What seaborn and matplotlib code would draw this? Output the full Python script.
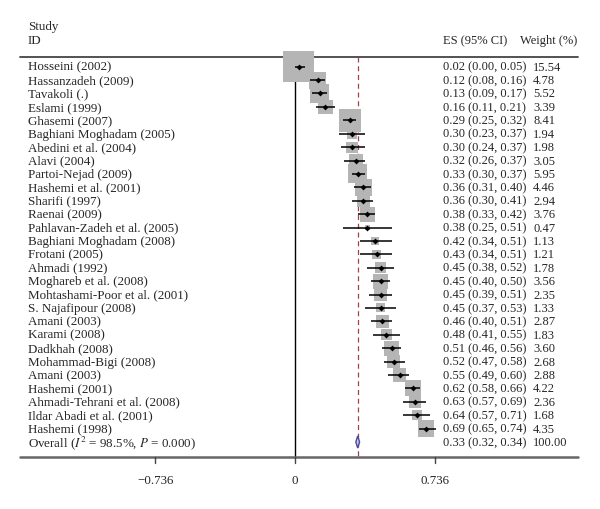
import matplotlib
matplotlib.use("Agg")
import matplotlib.pyplot as plt
import seaborn as sns
import pandas as pd

studies = ["Hosseini (2002)", "Hassanzadeh (2009)", "Tavakoli (.)", "Eslami (1999)",
           "Ghasemi (2007)", "Baghiani Moghadam (2005)", "Abedini et al. (2004)",
           "Alavi (2004)", "Partoi-Nejad (2009)", "Hashemi et al. (2001)",
           "Sharifi (1997)", "Raenai (2009)", "Pahlavan-Zadeh et al. (2005)",
           "Baghiani Moghadam (2008)", "Frotani (2005)", "Ahmadi (1992)",
           "Moghareb et al. (2008)", "Mohtashami-Poor et al. (2001)",
           "S. Najafipour (2008)", "Amani (2003)", "Karami (2008)", "Dadkhah (2008)",
           "Mohammad-Bigi (2008)", "Amani (2003)", "Hashemi (2001)",
           "Ahmadi-Tehrani et al. (2008)", "Ildar Abadi et al. (2001)", "Hashemi (1998)"]
es = [0.02, 0.12, 0.13, 0.16, 0.29, 0.30, 0.30, 0.32, 0.33, 0.36, 0.36, 0.38, 0.38,
      0.42, 0.43, 0.45, 0.45, 0.45, 0.45, 0.46, 0.48, 0.51, 0.52, 0.55, 0.62, 0.63,
      0.64, 0.69]
lo = [0.00, 0.08, 0.09, 0.11, 0.25, 0.23, 0.24, 0.26, 0.30, 0.31, 0.30, 0.33, 0.25,
      0.34, 0.34, 0.38, 0.40, 0.39, 0.37, 0.40, 0.41, 0.46, 0.47, 0.49, 0.58, 0.57,
      0.57, 0.65]
hi = [0.05, 0.16, 0.17, 0.21, 0.32, 0.37, 0.37, 0.37, 0.37, 0.40, 0.41, 0.42, 0.51,
      0.51, 0.51, 0.52, 0.50, 0.51, 0.53, 0.51, 0.55, 0.56, 0.58, 0.60, 0.66, 0.69,
      0.71, 0.74]
weights = [15.54, 4.78, 5.52, 3.39, 8.41, 1.94, 1.98, 3.05, 5.95, 4.46, 2.94, 3.76,
           0.47, 1.13, 1.21, 1.78, 3.56, 2.35, 1.33, 2.87, 1.83, 3.60, 2.68, 2.88,
           4.22, 2.36, 1.68, 4.35]
overall_es, overall_lo, overall_hi = 0.33, 0.32, 0.34
xticks = [-0.736, 0, 0.736]
xticklabels = ["\u22120.736", "0", "0.736"]

sns.set_style("white")
plt.rcParams["font.family"] = ["Liberation Serif", "DejaVu Serif"]
plt.rcParams["mathtext.fontset"] = "stix"

df = pd.DataFrame({"study": studies, "es": es, "lo": lo, "hi": hi, "w": weights})
df["row"] = range(len(df))
n = len(df)

fig = plt.figure(figsize=(6, 5.1), dpi=100)
ax = fig.add_axes([0, 0, 1, 1])
ax.set_xlim(-295 / 190, 305 / 190)
ax.set_ylim(33.0, -5.05)
ax.axis("off")

fs = 9.4     # study labels
fn = 9.0     # numeric columns
x_lab, x_es, x_w = -1.405, 0.779, 1.253
y_axis = 29.13

# header
ax.text(x_lab, -3.04, "Study", fontsize=fs, va="center")
ax.text(x_lab, -1.99, "ID", fontsize=fs, va="center")
ax.text(x_es, -1.99, "ES (95% CI)", fontsize=fn, va="center")
ax.text(1.184, -1.99, "Weight (%)", fontsize=fn, va="center")
ax.plot([-1.447, 1.489], [-0.72, -0.72], color="#444444", lw=1.3, zorder=1)

# reference lines
ax.plot([0, 0], [-0.72, y_axis], color="black", lw=1.0, zorder=1)
ax.plot([overall_es, overall_es], [-0.72, y_axis], color="#a0404a", lw=0.9,
        ls=(0, (4, 3)), zorder=1)

# weight boxes
sns.scatterplot(data=df, x="es", y="row", marker="s", s=df["w"] * 32,
                color="#b5b5b5", linewidth=0, ax=ax, zorder=2, legend=False)
ax.hlines(df["row"], df["lo"], df["hi"], color="black", lw=1.1, zorder=3)
sns.scatterplot(data=df, x="es", y="row", marker="D", s=9, color="black",
                linewidth=0, ax=ax, zorder=4, legend=False)

# overall diamond
ax.fill([overall_lo, overall_es, overall_hi, overall_es],
        [n, n - 0.45, n, n + 0.45], facecolor="#c8c8e6", edgecolor="#4b4b9b",
        lw=1.0, zorder=4)

for _, r in df.iterrows():
    ax.text(x_lab, r["row"], r["study"], fontsize=fs, va="center")
    ax.text(x_es, r["row"], f"{r['es']:.2f} ({r['lo']:.2f}, {r['hi']:.2f})",
            fontsize=fn, va="center")
    ax.text(x_w, r["row"], f"{r['w']:.2f}", fontsize=fn, va="center")

ax.text(x_lab, n, r"Overall ($I^2$ = 98.5%, $P$ = 0.000)", fontsize=fs, va="center")
ax.text(x_es, n, f"{overall_es:.2f} ({overall_lo:.2f}, {overall_hi:.2f})",
        fontsize=fn, va="center")
ax.text(x_w, n, "100.00", fontsize=fn, va="center")

# bottom axis
ax.plot([-1.447, 1.489], [y_axis, y_axis], color="#666666", lw=1.8, zorder=1)
for t, lab in zip(xticks, xticklabels):
    ax.plot([t, t], [y_axis, 29.57], color="#444444", lw=1.0)
    ax.text(t, 30.84, lab, fontsize=fs, ha="center", va="center")

fig.savefig("out.png", dpi=100)
